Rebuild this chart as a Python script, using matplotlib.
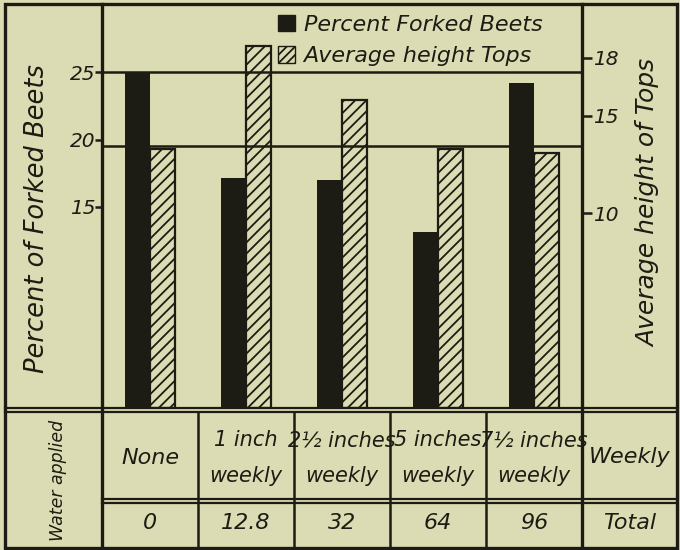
import numpy as np
import matplotlib.pyplot as plt
from matplotlib.patches import Patch, Rectangle

# data
treatments = ['None', '1 inch\nweekly', '2½ inches\nweekly', '5 inches\nweekly', '7½ inches\nweekly']
total_water = ['0', '12.8', '32', '64', '96']
forked_pct = [25.0, 17.1, 17.0, 13.1, 24.2]      # left axis
top_height = [13.3, 18.6, 15.8, 13.3, 13.1]      # right axis
left_ticks = [15, 20, 25]
right_ticks = [10, 15, 18]
ref_lines = [25, 19.5]

PAPER = '#dcdcb4'
INK = '#1c1c14'
plt.rcParams['font.family'] = ['DejaVu Sans']
plt.rcParams['font.style'] = 'italic'
plt.rcParams['hatch.linewidth'] = 1.3
plt.rcParams['hatch.color'] = INK

W, H = 680, 550
fig = plt.figure(figsize=(6.8, 5.5), dpi=100, facecolor=PAPER)


def box(x0, y0, x1, y1):
    # pixel box (origin top-left) -> figure rect
    return [x0 / W, 1 - y1 / H, (x1 - x0) / W, (y1 - y0) / H]


# outer frame and ruling
frame = fig.add_axes([0, 0, 1, 1])
frame.set_xlim(0, W)
frame.set_ylim(H, 0)
frame.axis('off')
frame.add_patch(Rectangle((5, 4), 672, 544, fill=False, lw=2.4, ec=INK))
for x in (102, 582):
    frame.plot([x, x], [4, 548], color=INK, lw=2.4)
for y in (408, 412):
    frame.plot([5, 677], [y, y], color=INK, lw=1.6)
for y in (499, 503):
    frame.plot([102, 677], [y, y], color=INK, lw=1.6)

frame.text(37, 219, 'Percent of Forked Beets', rotation=90, ha='center', va='center',
           fontsize=18.5, color=INK)
frame.text(648, 203, 'Average height of Tops', rotation=90, ha='center', va='center',
           fontsize=18, color=INK)

# bars
x = np.arange(len(treatments))
w = 0.26
ax = fig.add_axes(box(102, 4, 582, 408))
ax.patch.set_alpha(0)
ax.set_xlim(-0.5, 4.5)
ax.set_ylim(0, 30.1)
ax.bar(x - w / 2, forked_pct, w, color=INK)
for v in ref_lines:
    ax.axhline(v, color=INK, lw=1.8)
ax.set_xticks([])
ax.set_yticks(left_ticks)
ax.tick_params(axis='y', direction='out', length=5, width=1.8, pad=0, labelsize=14.5,
               colors=INK)
for s in ax.spines.values():
    s.set_visible(False)

ax2 = ax.twinx()
ax2.set_ylim(0, 20.75)
ax2.bar(x + w / 2, top_height, w, facecolor='none', edgecolor=INK, hatch='///', lw=1.6)
ax2.set_yticks(right_ticks)
ax2.tick_params(axis='y', direction='out', length=7, width=1.8, pad=1, labelsize=14.5,
                colors=INK)
for s in ax2.spines.values():
    s.set_visible(False)

handles = [Patch(facecolor=INK, edgecolor=INK),
           Patch(facecolor='none', edgecolor=INK, hatch='////')]
ax2.legend(handles, ['Percent Forked Beets', 'Average height Tops'], loc='upper left',
           bbox_to_anchor=((278 - 102) / 480, (408 - 15) / 404), frameon=False,
           handlelength=0.75, handleheight=0.75, handletextpad=0.4, labelspacing=0.5,
           borderpad=0, borderaxespad=0, fontsize=16, labelcolor=INK)

# table under the chart
tab = fig.add_axes(box(102, 412, 582, 548))
tab.set_xlim(-0.5, 4.5)
tab.set_ylim(548, 412)
tab.axis('off')
for xi in x[:-1]:
    tab.axvline(xi + 0.5, color=INK, lw=1.8)
for xi, lab, tot in zip(x, treatments, total_water):
    size = 16 if '\n' not in lab else 15
    tab.text(xi, 458, lab, ha='center', va='center', fontsize=size, linespacing=1.95,
             color=INK)
    tab.text(xi, 523, tot, ha='center', va='center', fontsize=16, color=INK)
tab.text(5, 457, 'Weekly', ha='center', va='center', fontsize=16, color=INK, clip_on=False)
tab.text(5, 523, 'Total', ha='center', va='center', fontsize=16, color=INK, clip_on=False)
tab.text(-0.96, 480, 'Water applied', rotation=90, ha='center', va='center',
         fontsize=12.5, color=INK, clip_on=False)

fig.savefig('out.png', dpi=100, facecolor=PAPER)
